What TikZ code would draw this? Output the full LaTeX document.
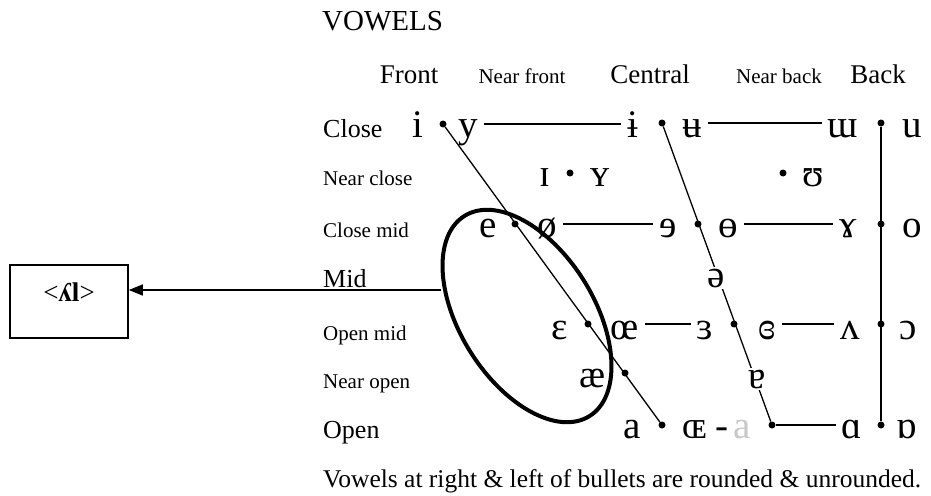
\documentclass[tikz,border=0pt]{standalone}
\usepackage{fontspec}
\setmainfont{Liberation Serif}
\usetikzlibrary{positioning, arrows.meta, shapes.geometric}
\definecolor{fadegray}{RGB}{200, 200, 200}

\begin{document}
\begin{tikzpicture}[
			x=1pt, y=-1pt,
			title/.style={anchor=base west, inner sep=0pt, font=\fontsize{29}{29}\selectfont},
			colhead/.style={anchor=base, inner sep=0pt, font=\fontsize{27}{27}\selectfont},
			nearhead/.style={anchor=base, inner sep=0pt, font=\fontsize{21}{21}\selectfont},
			rowbig/.style={anchor=base west, inner sep=0pt, font=\fontsize{26}{26}\selectfont},
			rowsmall/.style={anchor=base west, inner sep=0pt, font=\fontsize{21}{21}\selectfont},
			vow/.style={anchor=base, inner xsep=6pt, inner ysep=1pt, font=\fontsize{39}{39}\selectfont},
			bullet/.style={circle, fill, inner sep=0pt, minimum size=7pt},
			link/.style={line width=1.3pt},
			ring/.style={ellipse, draw, line width=4pt, minimum width=236pt, minimum height=134pt, rotate=-58},
			arrow/.style={line width=1.4pt, -{Triangle[length=14pt, width=11pt]}}
		]
		\useasboundingbox (0,0) rectangle (931,495);

		% headings
		\node[title] (vowels) at (322,31) {VOWELS};
		\node[colhead] (front) at (409,83) {Front};
		\node[nearhead] (nearfront) at (522,83) {Near front};
		\node[colhead] (central) at (650,83) {Central};
		\node[nearhead] (nearback) at (779,83) {Near back};
		\node[colhead] (back) at (878,83) {Back};

		% row labels
		\node[rowbig] (close) at (323,137) {Close};
		\node[rowsmall] (nearclose) at (323,185) {Near close};
		\node[rowsmall] (closemid) at (323,237) {Close mid};
		\node[rowbig] (mid) at (323,287) {Mid};
		\node[rowsmall] (openmid) at (323,340) {Open mid};
		\node[rowsmall] (nearopen) at (323,388) {Near open};
		\node[rowbig] (open) at (323,438) {Open};

		% close
		\node[vow] (v-i) at (418,137) {i};
		\node[bullet] (b-cf) at (443,124) {};
		\node[vow] (v-y) at (468,137) {y};
		\node[vow] (v-ibar) at (633,137) {ɨ};
		\node[bullet] (b-cc) at (662,123) {};
		\node[vow] (v-ubar) at (692,137) {ʉ};
		\node[vow] (v-turnm) at (843,137) {ɯ};
		\node[bullet] (b-cb) at (881,123) {};
		\node[vow] (v-u) at (912,137) {u};

		% near close
		\node[vow] (v-smi) at (545,186) {ɪ};
		\node[bullet] (b-ncf) at (570,173) {};
		\node[vow] (v-smy) at (600,186) {ʏ};
		\node[bullet] (b-ncb) at (783,173) {};
		\node[vow] (v-upsilon) at (813,186) {ʊ};

		% close mid
		\node[vow] (v-e) at (488,237) {e};
		\node[bullet] (b-cmf) at (515,224) {};
		\node[vow] (v-oslash) at (547,237) {ø};
		\node[vow] (v-reve) at (668,237) {ɘ};
		\node[bullet] (b-cmc) at (698,224) {};
		\node[vow] (v-baro) at (728,237) {ɵ};
		\node[vow] (v-ramshorn) at (848,237) {ɤ};
		\node[bullet] (b-cmb) at (881,224) {};
		\node[vow] (v-o) at (912,237) {o};

		% open mid
		\node[vow] (v-epsilon) at (560,339) {ɛ};
		\node[bullet] (b-omf) at (588,324) {};
		\node[vow] (v-oe) at (625,339) {œ};
		\node[vow] (v-revepsilon) at (705,339) {ɜ};
		\node[bullet] (b-omc) at (734,324) {};
		\node[vow] (v-closedrev) at (767,339) {ɞ};
		\node[vow] (v-turnv) at (850,339) {ʌ};
		\node[bullet] (b-omb) at (881,324) {};
		\node[vow] (v-openo) at (908,339) {ɔ};

		% near open
		\node[vow] (v-ash) at (592,387) {æ};
		\node[bullet] (b-nof) at (625,373) {};

		% open
		\node[vow] (v-a) at (632,438) {a};
		\node[bullet] (b-of) at (662,425) {};
		\node[vow] (v-oeopen) at (695,438) {ɶ};
		\node[vow, inner xsep=0pt] (v-dash) at (722,438) {-};
		\node[vow, text=fadegray] (v-agray) at (742,438) {a};
		\node[bullet] (b-oc) at (772,425) {};
		\node[vow] (v-alpha) at (852,438) {ɑ};
		\node[bullet] (b-ob) at (881,425) {};
		\node[vow] (v-turnalpha) at (907,438) {ɒ};

		% chart lines
		\draw[link] (b-cf) -- (b-of);
		\draw[link] (b-cc) -- (b-oc);
		\draw[link] (b-cb) -- (b-ob);
		\draw[link] (v-y.east |- b-cf) -- (v-ibar.west |- b-cf);
		\draw[link] (v-ubar.east |- b-cc) -- (v-turnm.west |- b-cc);
		\draw[link] (v-oslash.east |- b-cmf) -- (v-reve.west |- b-cmf);
		\draw[link] (v-baro.east |- b-cmc) -- (v-ramshorn.west |- b-cmc);
		\draw[link] (v-oe.east |- b-omf) -- (v-revepsilon.west |- b-omf);
		\draw[link] (v-closedrev.east |- b-omc) -- (v-turnv.west |- b-omc);
		\draw[link] (b-oc) -- (v-alpha.west |- b-oc);

		% central vowels sit on the line
		\node[vow, fill=white, inner sep=2pt] (v-schwa) at (716,287) {ə};
		\node[vow, fill=white, inner sep=2pt] (v-turna) at (757,388) {ɐ};

		% ring and pointer
		\node[ring] (ring) at (527,316) {};
		\node[draw, line width=1.6pt, minimum width=118pt, minimum height=73pt, text height=14pt, text depth=14pt, font=\fontsize{27}{27}\selectfont] (box) at (69,301.5) {<\textbf{ʎl}>};
		\coordinate (ring-tip) at (441,290);
		\draw[arrow] (ring-tip) -- (box.east |- ring-tip);

		% footnote
		\node[anchor=base west, inner sep=0pt, font=\fontsize{25.5}{25.5}\selectfont] (note) at (323,487) {Vowels at right \& left of bullets are rounded \& unrounded.};

	\end{tikzpicture}
\end{document}
